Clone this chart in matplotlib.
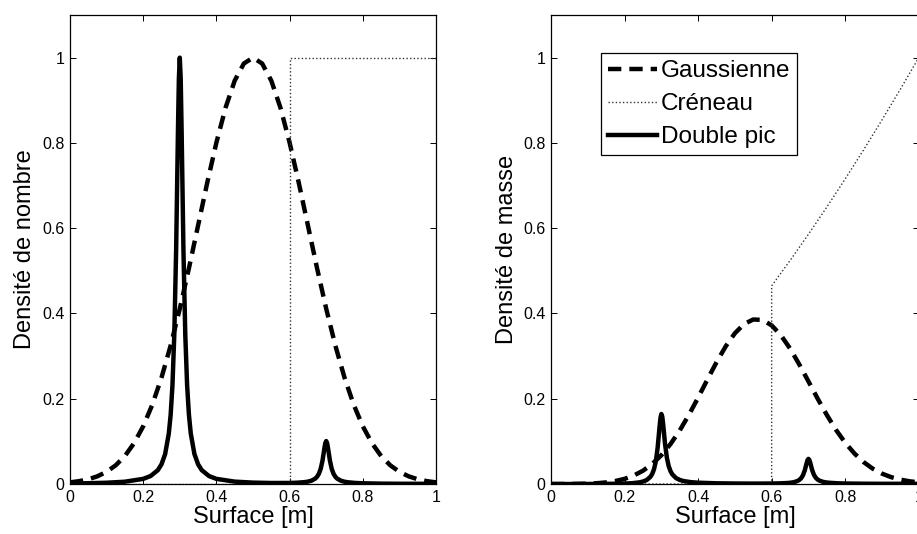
import matplotlib
matplotlib.use("Agg")
import matplotlib.pyplot as plt

plt.rcParams['font.family'] = ['Liberation Sans', 'DejaVu Sans']

# --- Gaussienne (densité de nombre / de masse) ---
x_gauss = [0.0, 0.025, 0.05, 0.075, 0.1, 0.125, 0.15, 0.175, 0.2, 0.225,
           0.25, 0.275, 0.3, 0.325, 0.35, 0.375, 0.4, 0.425, 0.45, 0.475,
           0.5, 0.525, 0.55, 0.575, 0.6, 0.625, 0.65, 0.675, 0.7, 0.725,
           0.75, 0.775, 0.8, 0.825, 0.85, 0.875, 0.9, 0.925, 0.95, 0.975, 1.0]
gauss_nombre = [0.0039, 0.0067, 0.0111, 0.0181, 0.0286, 0.0439, 0.0657, 0.0957, 0.1353, 0.1862,
                0.2494, 0.3247, 0.4111, 0.5062, 0.6065, 0.7066, 0.8007, 0.8825, 0.9460, 0.9862,
                1.0, 0.9862, 0.9460, 0.8825, 0.8007, 0.7066, 0.6065, 0.5062, 0.4111, 0.3247,
                0.2494, 0.1862, 0.1353, 0.0957, 0.0657, 0.0439, 0.0286, 0.0181, 0.0111, 0.0067, 0.0039]
gauss_masse = [0.0, 0.0, 0.0001, 0.0004, 0.0009, 0.0019, 0.0038, 0.0070, 0.0121, 0.0199,
               0.0312, 0.0468, 0.0676, 0.0938, 0.1256, 0.1623, 0.2026, 0.2445, 0.2856, 0.3228,
               0.3536, 0.3752, 0.3859, 0.3848, 0.3721, 0.3491, 0.3178, 0.2807, 0.2408, 0.2004,
               0.1620, 0.1270, 0.0968, 0.0717, 0.0515, 0.0359, 0.0244, 0.0161, 0.0103, 0.0064, 0.0039]

# --- Créneau ---
x_creneau_nombre = [0.0, 0.6, 0.6, 1.0]
creneau_nombre = [0.0, 0.0, 1.0, 1.0]
x_creneau_masse = [0.0, 0.6, 0.6, 0.65, 0.7, 0.75, 0.8, 0.85, 0.9, 0.95, 1.0]
creneau_masse = [0.0, 0.0, 0.4648, 0.5241, 0.5857, 0.6495, 0.7155, 0.7837, 0.8538, 0.9259, 1.0]

# --- Double pic ---
x_pic = [0.0, 0.05, 0.1, 0.15, 0.2, 0.22, 0.24, 0.25, 0.26, 0.27,
         0.275, 0.28, 0.285, 0.29, 0.295, 0.2975, 0.3, 0.3025, 0.305, 0.31,
         0.315, 0.32, 0.325, 0.33, 0.34, 0.35, 0.36, 0.38, 0.4, 0.45,
         0.5, 0.55, 0.6, 0.62, 0.64, 0.65, 0.66, 0.67, 0.675, 0.68,
         0.685, 0.69, 0.695, 0.6975, 0.7, 0.7025, 0.705, 0.71, 0.715, 0.72,
         0.725, 0.73, 0.74, 0.75, 0.76, 0.78, 0.8, 0.85, 0.9, 0.95, 1.0]
pic_nombre = [0.0013, 0.0019, 0.0030, 0.0054, 0.0121, 0.0186, 0.0325, 0.0462, 0.0703, 0.1185,
              0.162, 0.232, 0.350, 0.548, 0.829, 0.951, 1.0, 0.951, 0.829, 0.548,
              0.350, 0.232, 0.162, 0.1185, 0.0703, 0.0462, 0.0325, 0.0186, 0.0121, 0.0056,
              0.0033, 0.0024, 0.0025, 0.0031, 0.0043, 0.0056, 0.0079, 0.0127, 0.0171, 0.0241,
              0.0358, 0.0556, 0.0837, 0.0959, 0.1008, 0.0959, 0.0837, 0.0555, 0.0357, 0.0240,
              0.0170, 0.0126, 0.0078, 0.0054, 0.0040, 0.0025, 0.0017, 0.0009, 0.0006, 0.0005, 0.0004]
pic_masse = [0.0, 0.0, 0.0001, 0.0003, 0.0011, 0.0019, 0.0038, 0.0058, 0.0093, 0.0166,
             0.0234, 0.0344, 0.0532, 0.0856, 0.1328, 0.1543, 0.1643, 0.1582, 0.1396, 0.0946,
             0.0619, 0.0420, 0.0300, 0.0225, 0.0139, 0.0096, 0.0070, 0.0044, 0.0031, 0.0017,
             0.0012, 0.0010, 0.0012, 0.0015, 0.0022, 0.0029, 0.0042, 0.0070, 0.0095, 0.0135,
             0.0203, 0.0319, 0.0485, 0.0559, 0.0590, 0.0565, 0.0496, 0.0332, 0.0216, 0.0147,
             0.0105, 0.0079, 0.0050, 0.0035, 0.0027, 0.0017, 0.0012, 0.0007, 0.0005, 0.0005, 0.0004]

x_ticks = [0, 0.2, 0.4, 0.6, 0.8, 1]
x_ticklabels = ['0', '0.2', '0.4', '0.6', '0.8', '1']
y_ticks = [0, 0.2, 0.4, 0.6, 0.8, 1]
y_ticklabels = ['0', '0.2', '0.4', '0.6', '0.8', '1']

fig = plt.figure(figsize=(9.17, 5.34), dpi=100)
ax1 = fig.add_axes([0.0763, 0.0936, 0.3992, 0.8783])
ax2 = fig.add_axes([0.6009, 0.0936, 0.4010, 0.8783])

style_gauss = dict(color='black', lw=3.2, linestyle=(0, (3.0, 1.8)))
style_creneau = dict(color='0.2', lw=1.0, linestyle=(0, (1, 1.6)))
style_pic = dict(color='black', lw=3.2, linestyle='-')

def habiller(ax, ylabel):
    ax.set_xlim(0, 1)
    ax.set_ylim(0, 1.1)
    ax.set_xticks(x_ticks)
    ax.set_xticklabels(x_ticklabels)
    ax.set_yticks(y_ticks)
    ax.set_yticklabels(y_ticklabels)
    ax.tick_params(direction='in', length=4, width=0.7, top=True, right=True,
                   labelsize=11.5, pad=4)
    for sp in ax.spines.values():
        sp.set_linewidth(0.9)
    ax.set_xlabel('Surface [m]', fontsize=17, labelpad=1)
    ax.set_ylabel(ylabel, fontsize=17, labelpad=4)

# Densité de nombre
ax1.plot(x_gauss, gauss_nombre, **style_gauss)
ax1.plot(x_creneau_nombre, creneau_nombre, **style_creneau)
ax1.plot(x_pic, pic_nombre, **style_pic)
habiller(ax1, 'Densité de nombre')

# Densité de masse
ax2.plot(x_gauss, gauss_masse, label='Gaussienne', **style_gauss)
ax2.plot(x_creneau_masse, creneau_masse, label='Créneau', **style_creneau)
ax2.plot(x_pic, pic_masse, label='Double pic', **style_pic)
habiller(ax2, 'Densité de masse')

leg = ax2.legend(loc='upper left', bbox_to_anchor=(0.136, 0.919), fontsize=17.5,
                 frameon=True, fancybox=False, framealpha=1, edgecolor='black',
                 handlelength=2.0, handletextpad=0.15, borderpad=0.3,
                 labelspacing=0.45, borderaxespad=0)
leg.get_frame().set_linewidth(0.9)

fig.savefig('out.png', dpi=100)
